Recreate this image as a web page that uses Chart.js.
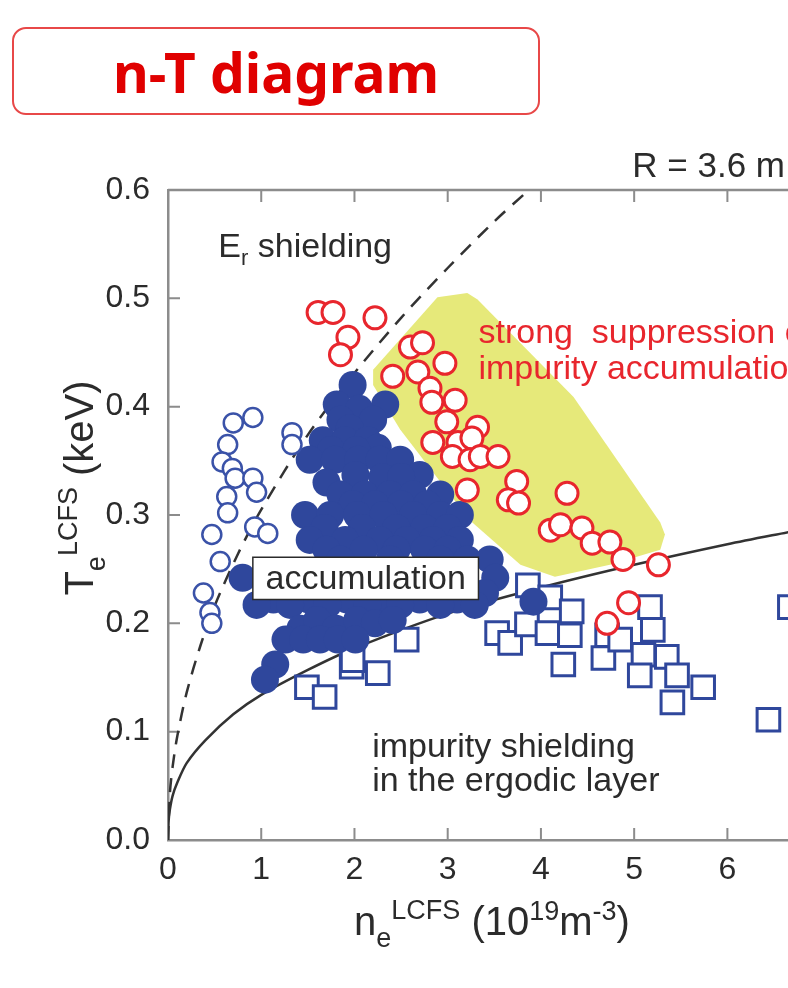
<!DOCTYPE html>
<html>
<head>
<meta charset="utf-8">
<script src="https://cdn.jsdelivr.net/npm/chart.js"></script>
<style>
  body { margin: 0; background: #fff; }
  #wrap { position: relative; width: 788px; height: 988px; overflow: hidden; }
  #c { position: absolute; left: 0; top: 0; }
  .title {
    position: absolute; left: 12px; top: 27px; width: 528px; height: 88px;
    box-sizing: border-box; border: 2px solid #e84848; border-radius: 14px;
    display: flex; align-items: center; justify-content: center;
    font: bold 55px "Noto Sans", sans-serif; color: #e00000;
  }
</style>
</head>
<body>
<div id="wrap">
  <canvas id="c" width="788" height="988"></canvas>
  <div class="title">n-T diagram</div>
</div>
<script>
// red open circles: strong suppression of impurity accumulation
const suppressN = [1.61, 1.77, 2.22, 1.93, 1.85, 2.60, 2.73, 2.97, 2.41, 2.68, 2.81, 2.83, 3.08, 2.99, 3.32, 2.84, 3.11, 3.26,
  3.05, 3.24, 3.35, 3.54, 3.21, 3.74, 3.65, 3.76, 4.28, 4.10, 4.21, 4.44, 4.55, 4.74, 4.88, 5.26, 4.94, 4.71];
const suppressT = [0.487, 0.487, 0.482, 0.464, 0.448, 0.455, 0.459, 0.440, 0.428, 0.432, 0.417, 0.404, 0.406, 0.386, 0.381, 0.367, 0.367, 0.371,
  0.354, 0.351, 0.354, 0.354, 0.323, 0.331, 0.314, 0.311, 0.320, 0.286, 0.291, 0.288, 0.274, 0.275, 0.259, 0.254, 0.219, 0.200];

// blue filled circles: accumulation
const accumN = [1.98, 1.81, 2.33, 2.05, 1.85, 2.20, 1.95, 1.66, 1.90, 2.14, 1.75, 2.25, 2.02, 1.52, 1.79, 2.04, 2.27, 2.49,
  2.01, 2.70, 1.70, 2.30, 2.50, 1.85, 2.11, 2.38, 2.63, 2.92, 1.98, 2.22, 2.50, 2.78,
  1.47, 1.74, 2.03, 2.31, 2.63, 2.92, 3.13, 1.68, 2.08, 2.45, 2.75, 3.00, 1.52, 1.90, 2.27, 2.56, 2.84, 3.13,
  1.70, 2.10, 2.45, 2.75, 3.00, 3.21, 3.45, 1.85, 2.38, 2.92, 0.80, 3.51,
  1.13, 1.51, 1.92, 2.31, 2.70, 3.10, 3.40, 0.95, 1.31, 1.71, 2.14, 2.49, 2.92, 3.29,
  1.42, 1.60, 1.80, 2.03, 2.22, 2.41, 1.26, 1.45, 1.63, 1.82, 2.01, 1.15, 1.04, 3.92];
const accumT = [0.420, 0.402, 0.402, 0.398, 0.388, 0.388, 0.380, 0.369, 0.369, 0.369, 0.360, 0.362, 0.360, 0.351, 0.351, 0.351, 0.351, 0.351,
  0.337, 0.337, 0.330, 0.335, 0.335, 0.319, 0.319, 0.319, 0.319, 0.319, 0.310, 0.310, 0.310, 0.310,
  0.300, 0.300, 0.300, 0.300, 0.300, 0.300, 0.300, 0.288, 0.288, 0.288, 0.288, 0.288, 0.277, 0.277, 0.277, 0.277, 0.277, 0.277,
  0.268, 0.268, 0.268, 0.268, 0.268, 0.259, 0.259, 0.259, 0.259, 0.259, 0.242, 0.242,
  0.222, 0.222, 0.222, 0.222, 0.222, 0.222, 0.228, 0.217, 0.217, 0.217, 0.217, 0.217, 0.217, 0.217,
  0.195, 0.203, 0.195, 0.203, 0.200, 0.203, 0.185, 0.185, 0.185, 0.185, 0.185, 0.162, 0.148, 0.220];

// blue open circles: Er shielding
const erShieldN = [0.70, 0.91, 0.64, 0.58, 0.69, 0.72, 0.91, 0.95, 0.63, 0.64, 0.93, 1.07, 0.47, 0.56, 0.38, 0.45, 0.47, 1.33, 1.33];
const erShieldT = [0.385, 0.390, 0.365, 0.349, 0.343, 0.334, 0.334, 0.321, 0.317, 0.302, 0.289, 0.283, 0.282, 0.257, 0.228, 0.210, 0.200, 0.376, 0.365];

// blue open squares: impurity shielding in the ergodic layer
const ergodicN = [1.49, 1.68, 1.97, 2.25, 1.98, 2.56, 3.53, 3.67, 3.86, 4.10, 3.85, 4.07, 4.33, 4.31, 4.24, 4.71, 4.67, 4.85,
  5.17, 5.20, 5.10, 5.06, 5.35, 5.46, 5.41, 5.74, 6.44, 6.67];
const ergodicT = [0.141, 0.132, 0.160, 0.154, 0.166, 0.185, 0.191, 0.182, 0.235, 0.224, 0.199, 0.191, 0.211, 0.189, 0.162, 0.189, 0.168, 0.185,
  0.215, 0.194, 0.171, 0.152, 0.169, 0.152, 0.127, 0.141, 0.111, 0.215];

// boundary curves
const dashedN = [0, 0.02, 0.05, 0.1, 0.2, 0.35, 0.5, 0.75, 1, 1.5, 2, 2.5, 3, 3.5, 3.87];
const dashedT = [0, 0.043, 0.068, 0.096, 0.136, 0.180, 0.216, 0.264, 0.305, 0.374, 0.431, 0.482, 0.528, 0.571, 0.600];
const solidN = [0, 0.005, 0.02, 0.05, 0.1, 0.2, 0.4, 0.7, 1, 1.5, 2, 3, 4, 5, 6, 6.7];
const solidT = [0, 0.016, 0.028, 0.041, 0.053, 0.071, 0.092, 0.116, 0.134, 0.157, 0.177, 0.209, 0.233, 0.254, 0.273, 0.285];

// shaded region outline
const regionN = [2.20, 2.89, 3.21, 3.32, 4.35, 5.28, 5.33, 5.28, 4.74, 4.15, 3.78, 3.24, 2.49, 2.20];
const regionT = [0.434, 0.501, 0.505, 0.499, 0.409, 0.293, 0.282, 0.268, 0.254, 0.243, 0.254, 0.295, 0.379, 0.420];

const FONT = '"Liberation Sans", Arial, sans-serif';
const AXIS = '#8c8c8c';
const INK = '#2b2b2b';
const RED = '#e8262d';
const BLUE = '#2f479c';

const pts = (ns, ts) => ns.map((n, i) => ({ x: n, y: ts[i] }));

// text runs with sub/superscripts: [text, size, baseline shift]
function rich(ctx, parts, x, y, align) {
  let w = 0;
  parts.forEach(p => { ctx.font = p[1] + 'px ' + FONT; w += ctx.measureText(p[0]).width; });
  let cx = align === 'center' ? x - w / 2 : x;
  parts.forEach(p => {
    ctx.font = p[1] + 'px ' + FONT;
    ctx.fillText(p[0], cx, y + p[2]);
    cx += ctx.measureText(p[0]).width;
  });
}

const frame = {
  id: 'frame',
  beforeDatasetsDraw(chart) {
    const { ctx, chartArea: a, scales: { x, y } } = chart;
    ctx.save();
    ctx.strokeStyle = AXIS;
    ctx.lineWidth = 2.5;
    ctx.beginPath();
    ctx.moveTo(a.left, a.top);
    ctx.lineTo(a.right, a.top);
    ctx.stroke();
    // ticks point into the plot
    ctx.lineWidth = 2;
    ctx.beginPath();
    x.ticks.forEach(t => {
      const px = x.getPixelForValue(t.value);
      ctx.moveTo(px, a.bottom); ctx.lineTo(px, a.bottom - 12);
      ctx.moveTo(px, a.top); ctx.lineTo(px, a.top + 12);
    });
    y.ticks.forEach(t => {
      const py = y.getPixelForValue(t.value);
      ctx.moveTo(a.left, py); ctx.lineTo(a.left + 12, py);
    });
    ctx.stroke();
    ctx.restore();
  },
  afterDatasetsDraw(chart) {
    const { ctx, chartArea: a, scales: { x, y } } = chart;
    ctx.save();

    // accumulation label box
    const bx0 = x.getPixelForValue(0.91), bx1 = x.getPixelForValue(3.33);
    const by0 = y.getPixelForValue(0.261), by1 = y.getPixelForValue(0.222);
    ctx.fillStyle = '#fff';
    ctx.fillRect(bx0, by0, bx1 - bx0, by1 - by0);
    ctx.strokeStyle = INK;
    ctx.lineWidth = 1.5;
    ctx.strokeRect(bx0, by0, bx1 - bx0, by1 - by0);
    ctx.fillStyle = INK;
    ctx.textAlign = 'center';
    ctx.textBaseline = 'middle';
    ctx.font = '34px ' + FONT;
    ctx.fillText('accumulation', (bx0 + bx1) / 2, (by0 + by1) / 2 + 1);

    ctx.textAlign = 'left';
    ctx.textBaseline = 'alphabetic';
    rich(ctx, [['E', 34, 0], ['r', 22, 8], [' shielding', 34, 0]], x.getPixelForValue(0.54), y.getPixelForValue(0.538), 'left');
    ctx.font = '35px ' + FONT;
    ctx.fillText('R = 3.6 m', x.getPixelForValue(4.98), y.getPixelForValue(0.612));
    ctx.font = '34px ' + FONT;
    ctx.fillText('impurity shielding', x.getPixelForValue(2.19), y.getPixelForValue(0.077));
    ctx.fillText('in the ergodic layer', x.getPixelForValue(2.19), y.getPixelForValue(0.045));

    ctx.fillStyle = RED;
    ctx.fillText('strong  suppression of', x.getPixelForValue(3.33), y.getPixelForValue(0.459));
    ctx.fillText('impurity accumulation', x.getPixelForValue(3.33), y.getPixelForValue(0.426));

    // axis titles
    ctx.fillStyle = INK;
    rich(ctx, [['n', 40, 0], ['e', 27, 12], ['LCFS', 27, -16], [' (10', 40, 0], ['19', 27, -15], ['m', 40, 0], ['-3', 27, -15], [')', 40, 0]],
      492, a.bottom + 95, 'center');
    ctx.translate(93, (a.top + a.bottom) / 2 - 27);
    ctx.rotate(-Math.PI / 2);
    rich(ctx, [['T', 40, 0], ['e', 27, 12], ['LCFS', 27, -16], [' (keV)', 40, 0]], 0, 0, 'center');
    ctx.restore();
  }
};

Chart.defaults.font.family = FONT;

new Chart(document.getElementById('c'), {
  type: 'scatter',
  data: {
    datasets: [
      {
        data: pts(suppressN, suppressT), order: 1,
        pointStyle: 'circle', pointRadius: 11, borderWidth: 3,
        borderColor: RED, backgroundColor: '#fff'
      },
      {
        data: pts(erShieldN, erShieldT), order: 2,
        pointStyle: 'circle', pointRadius: 9.5, borderWidth: 2.5,
        borderColor: '#3a52a8', backgroundColor: '#fff'
      },
      {
        data: pts(accumN, accumT), order: 3,
        pointStyle: 'circle', pointRadius: 14, borderWidth: 0,
        borderColor: BLUE, backgroundColor: BLUE
      },
      {
        data: pts(ergodicN, ergodicT), order: 4,
        pointStyle: 'rect', pointRadius: 16, borderWidth: 3,
        borderColor: BLUE, backgroundColor: '#fff'
      },
      {
        type: 'line', data: pts(solidN, solidT), order: 5,
        borderColor: '#333', borderWidth: 2.5, pointRadius: 0, tension: 0.3, fill: false
      },
      {
        type: 'line', data: pts(dashedN, dashedT), order: 6,
        borderColor: '#333', borderWidth: 2.5, borderDash: [14, 10], pointRadius: 0, tension: 0.3, fill: false
      },
      {
        type: 'line', data: pts(regionN, regionT), order: 7,
        borderWidth: 0, borderColor: 'rgba(0,0,0,0)', backgroundColor: '#e6e97a',
        pointRadius: 0, tension: 0, fill: 'shape'
      }
    ]
  },
  options: {
    responsive: false,
    animation: false,
    devicePixelRatio: 1,
    layout: { autoPadding: false, padding: { top: 190, left: 0, right: 0, bottom: 0 } },
    plugins: { legend: { display: false }, tooltip: { enabled: false } },
    scales: {
      x: {
        type: 'linear', min: 0, max: 6.65,
        afterFit(s) { s.height = 148; },
        grid: { display: false },
        border: { display: true, color: AXIS, width: 2.5 },
        ticks: { stepSize: 1, includeBounds: false, padding: 3, maxRotation: 0, color: INK, font: { size: 32 } }
      },
      y: {
        type: 'linear', min: 0, max: 0.6,
        afterFit(s) { s.width = 168; },
        grid: { display: false },
        border: { display: true, color: AXIS, width: 2.5 },
        ticks: { stepSize: 0.1, includeBounds: false, padding: 10, color: INK, font: { size: 32 },
          callback: v => v.toFixed(1) }
      }
    }
  },
  plugins: [frame]
});
</script>
</body>
</html>
